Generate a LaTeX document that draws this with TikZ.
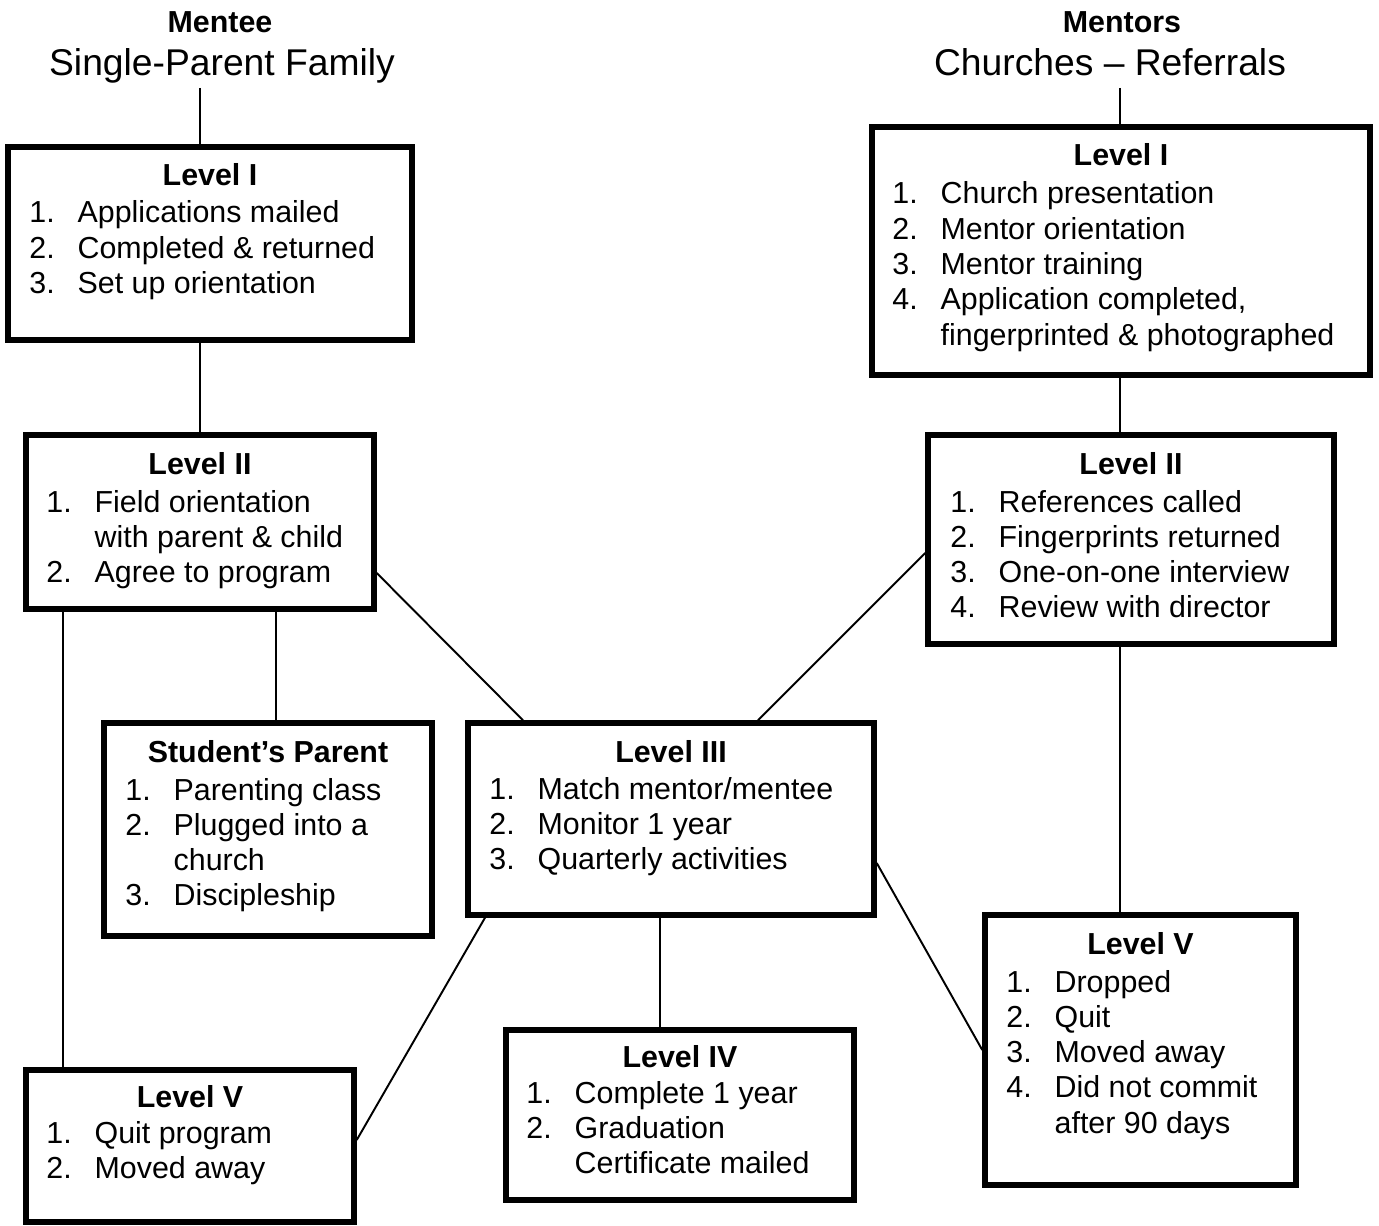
\documentclass[tikz,border=0pt]{standalone}
\usepackage{fontspec}
\setmainfont{Liberation Sans}
\usetikzlibrary{fit}
\newcommand\itm[1]{\makebox[27.5pt][l]{#1}}
\newcommand\itemlist[1]{\begin{tabular}[t]{@{}l@{}}#1\end{tabular}}

\begin{document}
\begin{tikzpicture}[x=0.02cm, y=-0.02cm,
    box/.style={draw, line width=3.1pt, inner sep=0pt},
    link/.style={line width=1.1pt},
    ttl/.style={anchor=base, inner sep=0pt, font=\fontsize{17.3}{20}\selectfont\bfseries},
    txt/.style={anchor=base west, inner sep=0pt, font=\fontsize{17.3}{20.1}\selectfont},
    head/.style={anchor=base, inner sep=0pt, font=\fontsize{21.2}{25}\selectfont}]
        \useasboundingbox (0,0) rectangle (1379,1226);

        % Headers
        \node[ttl] (menTitle) at (220,33) {Mentee};
        \node[head] (menSub) at (222,76) {Single-Parent Family};
        \node[ttl] (mtrTitle) at (1122,33) {Mentors};
        \node[head] (mtrSub) at (1110,76) {Churches -- Referrals};
        \coordinate (menTop) at (200,88);
        \coordinate (mtrTop) at (1120,88);

        % Boxes
        \node[box, fit={(8,147) (412,340)}] (menA) {};
        \node[box, fit={(872,127) (1370,375)}] (mtrA) {};
        \node[box, fit={(26,435) (374,609)}] (menB) {};
        \node[box, fit={(928,435) (1334,644)}] (mtrB) {};
        \node[box, fit={(104,723) (432,936)}] (par) {};
        \node[box, fit={(468,723) (874,915)}] (lvlC) {};
        \node[box, fit={(506,1030) (854,1200)}] (lvlD) {};
        \node[box, fit={(26,1070) (354,1222)}] (menE) {};
        \node[box, fit={(985,915) (1296,1185)}] (mtrE) {};

        % Box texts
        \node[ttl] at (menA.center |- 0,186) {Level I};
        \node[txt] at (29,223) {\itemlist{\itm{1.}Applications mailed\\ \itm{2.}Completed \& returned\\ \itm{3.}Set up orientation}};

        \node[ttl] at (mtrA.center |- 0,166) {Level I};
        \node[txt] at (892,204) {\itemlist{\itm{1.}Church presentation\\ \itm{2.}Mentor orientation\\ \itm{3.}Mentor training\\ \itm{4.}Application completed,\\ \itm{}fingerprinted \& photographed}};

        \node[ttl] at (menB.center |- 0,474) {Level II};
        \node[txt] at (46,512) {\itemlist{\itm{1.}Field orientation\\ \itm{}with parent \& child\\ \itm{2.}Agree to program}};

        \node[ttl] at (mtrB.center |- 0,474) {Level II};
        \node[txt] at (950,512) {\itemlist{\itm{1.}References called\\ \itm{2.}Fingerprints returned\\ \itm{3.}One-on-one interview\\ \itm{4.}Review with director}};

        \node[ttl] at (par.center |- 0,762) {Student’s Parent};
        \node[txt] at (125,800) {\itemlist{\itm{1.}Parenting class\\ \itm{2.}Plugged into a\\ \itm{}church\\ \itm{3.}Discipleship}};

        \node[ttl] at (lvlC.center |- 0,762) {Level III};
        \node[txt] at (489,799) {\itemlist{\itm{1.}Match mentor/mentee\\ \itm{2.}Monitor 1 year\\ \itm{3.}Quarterly activities}};

        \node[ttl] at (lvlD.center |- 0,1067) {Level IV};
        \node[txt] at (526,1103) {\itemlist{\itm{1.}Complete 1 year\\ \itm{2.}Graduation\\ \itm{}Certificate mailed}};

        \node[ttl] at (menE.center |- 0,1107) {Level V};
        \node[txt] at (46,1143) {\itemlist{\itm{1.}Quit program\\ \itm{2.}Moved away}};

        \node[ttl] at (mtrE.center |- 0,954) {Level V};
        \node[txt] at (1006,992) {\itemlist{\itm{1.}Dropped\\ \itm{2.}Quit\\ \itm{3.}Moved away\\ \itm{4.}Did not commit\\ \itm{}after 90 days}};

        % Connectors
        \draw[link] (menTop) -- (menTop |- menA.north);
        \draw[link] (menA.south -| menTop) -- (menB.north -| menTop);
        \draw[link] (mtrTop) -- (mtrTop |- mtrA.north);
        \draw[link] (mtrA.south -| mtrTop) -- (mtrB.north -| mtrTop);
        \draw[link] (mtrB.south -| mtrTop) -- (mtrE.north -| mtrTop);
        \draw[link] (menB.south -| 276,0) -- (par.north -| 276,0);
        \draw[link] (menB.south -| 63,0) -- (menE.north -| 63,0);
        \draw[link] (menB.east |- 0,573) -- (lvlC.north -| 523,0);
        \draw[link] (mtrB.west |- 0,553) -- (lvlC.north -| 758,0);
        \draw[link] (lvlC.south -| 485,0) -- (menE.east |- 0,1140);
        \draw[link] (lvlC.south -| 660,0) -- (lvlD.north -| 660,0);
        \draw[link] (lvlC.east |- 0,863) -- (mtrE.west |- 0,1050);
\end{tikzpicture}
\end{document}
